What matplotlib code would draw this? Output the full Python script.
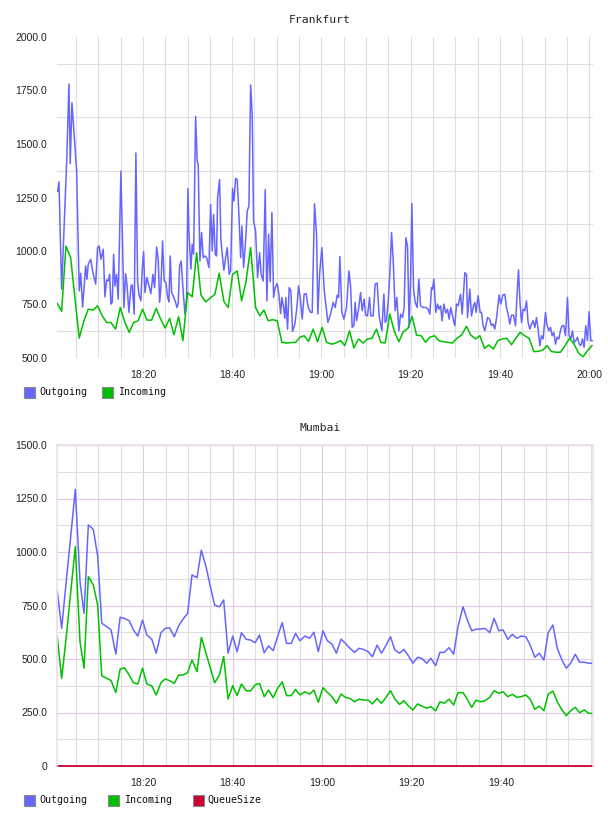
import matplotlib
matplotlib.use("Agg")
import matplotlib.pyplot as plt
from matplotlib.patches import Rectangle
from matplotlib.ticker import FixedLocator, FuncFormatter

# minutes after 18:00 and values
fra_out_t = [0.89, 1.19, 1.79, 2.91, 3.43, 3.72, 4.10, 5.15, 5.73, 6.05, 6.49, 7.17, 7.46, 7.75, 8.29, 8.73,
             9.41, 9.85, 10.21, 10.59, 11.11, 11.49, 11.87, 12.23, 12.54, 12.83, 13.13, 13.44, 13.73, 14.11,
             14.47, 15.07, 15.75, 16.13, 16.42, 16.87, 17.31, 17.61, 18.05, 18.43, 18.81, 19.11, 19.55, 19.85,
             20.16, 20.45, 20.90, 21.35, 21.79, 22.24, 22.62, 23.07, 23.43, 23.74, 24.03, 24.41, 24.77, 25.15,
             25.53, 25.83, 26.12, 26.43, 26.88, 27.33, 27.62, 27.91, 28.22, 28.58, 28.96, 29.41, 29.79, 30.08,
             30.31, 30.75, 31.05, 31.36, 31.81, 32.17, 32.39, 32.77, 33.15, 33.51, 33.89, 34.27, 34.79, 35.17,
             35.53, 35.84, 36.20, 36.51, 36.73, 37.18, 37.47, 37.77, 38.15, 38.53, 38.89, 39.33, 39.65, 40.09,
             40.39, 40.77, 41.13, 41.51, 41.89, 42.18, 42.56, 43.01, 43.37, 43.75, 44.13, 44.49, 44.80, 45.25,
             45.69, 46.14, 46.50, 46.95, 47.40, 47.78, 48.16, 48.52, 48.90, 49.28, 49.64, 50.09, 50.47, 50.85,
             51.14, 51.52, 51.81, 52.03, 52.41, 52.77, 53.15, 53.53, 54.05, 54.50, 54.88, 55.33, 55.69, 56.13,
             56.58, 57.03, 57.57, 57.93, 58.46, 58.91, 59.20, 59.58, 60.10, 60.60, 61.44, 62.05, 62.63, 63.08,
             63.53, 63.84, 64.13, 64.58, 65.03, 65.63, 66.15, 66.53, 66.89, 67.27, 67.56, 67.87, 68.32, 68.77,
             69.13, 69.57, 69.89, 70.33, 70.78, 71.07, 71.59, 72.04, 72.49, 72.93, 73.54, 73.99, 74.28, 74.59,
             74.95, 75.33, 75.71, 76.07, 76.52, 76.90, 77.35, 77.73, 78.17, 78.53, 78.91, 79.29, 79.65, 79.97,
             80.26, 80.64, 81.00, 81.45, 81.83, 82.21, 82.79, 83.39, 83.91, 84.29, 84.67, 84.89, 85.19, 85.63,
             86.01, 86.37, 86.69, 87.05, 87.43, 87.87, 88.25, 88.61, 88.99, 89.29, 89.60, 89.89, 90.27, 90.63,
             91.17, 91.53, 92.13, 92.51, 92.73, 93.25, 93.63, 94.08, 94.37, 94.66, 95.11, 95.56, 95.87, 96.23,
             96.61, 97.22, 97.66, 98.11, 98.47, 98.85, 99.30, 99.81, 100.19, 100.64, 101.09, 101.47, 101.83,
             102.21, 102.59, 103.04, 103.49, 103.85, 104.16, 104.45, 104.83, 105.19, 105.57, 105.95, 106.31,
             106.69, 107.07, 107.43, 107.81, 108.19, 108.55, 108.93, 109.31, 109.67, 110.21, 110.50, 110.95,
             111.33, 111.69, 112.07, 112.45, 112.81, 113.19, 113.63, 113.93, 114.31, 114.69, 115.13, 115.49,
             115.87, 116.25, 116.61, 116.99, 117.37, 117.73, 118.11, 118.49, 118.85, 119.23, 119.61, 119.97,
             120.35, 120.73]
fra_out_v = [1279, 1323, 821, 1413, 1780, 1408, 1693, 1373, 814, 896, 738, 930, 868, 938, 961, 907,
             845, 1017, 1023, 961, 1008, 786, 865, 860, 891, 752, 760, 985, 837, 891,
             775, 1373, 736, 894, 845, 713, 833, 842, 705, 1458, 860, 798, 767, 915,
             997, 806, 876, 837, 801, 891, 829, 1019, 961, 760, 829, 1047, 860, 853,
             786, 762, 977, 806, 786, 760, 736, 752, 930, 953, 829, 705, 783, 1292,
             1093, 915, 1031, 985, 1629, 1419, 1404, 953, 1086, 969, 977, 969, 923, 1217,
             1000, 1171, 985, 977, 1249, 1334, 1054, 985, 910, 969, 1016, 891, 907, 1292,
             1233, 1339, 1334, 1171, 969, 1116, 923, 1047, 1186, 1210, 1776, 1637, 1140, 1093,
             876, 992, 891, 860, 1287, 767, 1078, 857, 1179, 783, 829, 848, 798, 708,
             783, 736, 685, 783, 635, 829, 814, 624, 659, 736, 837, 767, 682, 798,
             801, 736, 713, 713, 1221, 1078, 705, 891, 1016, 822, 666, 705, 760, 736,
             794, 783, 974, 713, 682, 736, 907, 837, 643, 651, 760, 674, 728, 806,
             721, 775, 700, 697, 783, 697, 697, 845, 850, 697, 627, 798, 666, 674,
             760, 891, 1086, 961, 721, 783, 627, 705, 689, 736, 1062, 1023, 643, 868,
             1222, 822, 760, 736, 868, 744, 736, 736, 728, 705, 829, 822, 868, 713,
             752, 728, 744, 674, 752, 710, 728, 682, 736, 705, 674, 651, 752, 744,
             798, 705, 899, 891, 689, 822, 697, 744, 760, 713, 791, 713, 713, 651,
             627, 689, 682, 651, 659, 635, 697, 794, 752, 794, 798, 736, 705,
             659, 700, 700, 651, 806, 912, 775, 666, 728, 721, 767, 666,
             635, 659, 674, 643, 689, 635, 558, 604, 589, 713, 659, 627,
             643, 604, 620, 565, 597, 589, 635, 651, 651, 604, 783, 604,
             589, 627, 573, 581, 597, 565, 558, 589, 550, 651, 581, 716,
             581, 581]

fra_in_t = [0.81, 1.79, 2.75, 3.81, 5.73, 6.79, 7.75, 8.87, 9.85, 10.89, 11.87, 12.83, 13.89, 14.92, 15.97,
            16.93, 17.92, 18.95, 19.93, 20.90, 21.95, 22.98, 23.97, 25.00, 25.98, 26.95, 28.00, 28.96, 30.02,
            31.05, 32.03, 33.00, 34.05, 35.08, 36.13, 37.09, 38.15, 39.11, 40.09, 41.13, 42.11, 43.07, 44.13,
            45.25, 46.21, 47.11, 48.07, 49.05, 50.09, 51.14, 52.19, 53.15, 54.21, 55.17, 56.13, 57.12, 58.15,
            59.13, 60.17, 61.15, 62.27, 63.23, 64.29, 65.25, 66.30, 67.27, 68.32, 69.35, 70.33, 71.30, 72.35,
            73.31, 74.28, 75.33, 76.29, 77.35, 78.31, 79.36, 80.33, 81.31, 82.34, 83.33, 84.29, 85.34, 86.31,
            87.36, 88.32, 89.37, 90.34, 91.39, 92.51, 93.47, 94.53, 95.49, 96.54, 97.51, 98.56, 99.52, 100.57,
            101.54, 102.59, 103.55, 104.52, 105.57, 106.53, 107.59, 108.55, 109.60, 110.57, 111.55, 112.58,
            113.57, 114.60, 115.58, 116.61, 117.60, 118.63, 119.61, 120.62]
fra_in_v = [755, 718, 1023, 969, 593, 674, 728, 724, 744, 697, 666, 666, 635, 736, 666,
            620, 666, 674, 728, 677, 677, 732, 682, 640, 685, 609, 693, 581, 806,
            786, 992, 795, 762, 780, 798, 896, 764, 736, 891, 907, 767, 853, 1016,
            736, 697, 724, 674, 679, 674, 573, 570, 572, 573, 597, 604, 578, 635,
            576, 643, 573, 565, 570, 581, 558, 627, 547, 589, 570, 589, 592, 635,
            573, 570, 705, 627, 576, 622, 638, 694, 607, 604, 573, 597, 604, 581,
            576, 573, 570, 592, 607, 648, 607, 589, 604, 545, 561, 542, 581, 589,
            592, 562, 592, 620, 604, 592, 530, 531, 537, 558, 530, 527,
            527, 558, 592, 565, 523, 506, 534, 558]

mum_t = [0.81, 1.79, 2.75, 3.76, 4.84, 5.89, 6.79, 7.75, 8.87, 9.85, 10.75, 11.87, 12.83, 13.89, 14.85,
         15.81, 16.87, 17.83, 18.81, 19.85, 20.83, 21.95, 22.91, 23.97, 24.93, 25.89, 26.95, 27.91, 28.89,
         29.93, 30.91, 32.03, 33.00, 34.05, 35.01, 35.97, 37.03, 37.99, 38.97, 40.01, 40.99, 41.95, 43.01,
         43.97, 45.02, 45.99, 47.04, 48.00, 49.05, 50.02, 51.07, 52.03, 53.09, 54.05, 55.01, 56.13, 57.19,
         58.15, 59.13, 60.17, 61.15, 62.18, 63.17, 64.20, 65.18, 66.21, 67.20, 68.23, 69.21, 70.25, 71.23,
         72.26, 73.25, 74.28, 75.26, 76.23, 77.28, 78.24, 79.29, 80.26, 81.31, 82.27, 83.33, 84.29, 85.34,
         86.31, 87.27, 88.32, 89.37, 90.34, 91.46, 92.42, 93.41, 94.37, 95.42, 96.39, 97.44, 98.40, 99.46,
         100.42, 101.47, 102.50, 103.49, 104.45, 105.50, 106.47, 107.52, 108.48, 109.53, 110.50, 111.55,
         112.51, 113.57, 114.53, 115.49, 116.55, 117.51, 118.56, 119.53, 120.40]
mum_out = [818, 643, 850, 1060, 1293, 861, 713, 1126, 1106, 978, 667, 651, 636, 523, 695,
           690, 679, 636, 607, 682, 612, 592, 527, 623, 643, 646, 604, 654, 686,
           713, 893, 880, 1009, 931, 838, 752, 744, 776, 527, 607, 534, 623, 592,
           589, 576, 612, 529, 561, 539, 604, 670, 573, 573, 620, 585, 607, 597,
           625, 534, 632, 585, 570, 527, 593, 573, 550, 531, 550, 545, 534, 511,
           565, 527, 565, 604, 542, 527, 545, 514, 480, 508, 503, 480, 503, 469,
           531, 531, 553, 523, 651, 744, 682, 632, 639, 640, 643, 623, 690, 632,
           636, 592, 615, 597, 607, 604, 565, 508, 527, 495, 623, 659,
           550, 495, 457, 480, 522, 485, 485, 480, 480]
mum_in = [604, 410, 590, 800, 1025, 581, 457, 885, 846, 750, 421, 410, 399, 343, 453,
          459, 425, 389, 383, 457, 383, 374, 332, 389, 407, 399, 386, 425, 425,
          436, 495, 441, 601, 527, 457, 389, 425, 511, 313, 375, 329, 383, 352,
          350, 379, 386, 324, 355, 319, 363, 393, 329, 329, 358, 332, 347, 336,
          355, 298, 366, 344, 324, 293, 336, 321, 316, 300, 312, 308, 308, 290,
          316, 293, 321, 352, 313, 288, 305, 280, 262, 290, 280, 270, 277, 258,
          300, 293, 312, 285, 343, 343, 312, 274, 308, 300, 305, 321, 352, 340,
          347, 324, 335, 321, 324, 332, 312, 265, 280, 258, 336, 350,
          300, 262, 235, 258, 274, 249, 262, 246, 246]
mum_queue = [0] * len(mum_t)

BLUE = "#6666FF"
GREEN = "#00C000"
RED = "#CC0033"
GRID = "#DEDEDE"
PURPLE = "#E2C8E2"

W, H = 608, 816
fig = plt.figure(figsize=(W / 100, H / 100), dpi=100)


def fx(px):
    return px / W


def fy(py):
    return 1 - py / H


def hhmm(m, _pos=None):
    m = int(round(m))
    return f"{18 + m // 60}:{m % 60:02d}"


def setup(ax, y0, y1, ystep, xmax, xlabels, purple):
    ax.set_xlim(0.75, xmax)
    ax.set_ylim(y0, y1)
    ax.xaxis.set_major_locator(FixedLocator(xlabels))
    ax.xaxis.set_major_formatter(FuncFormatter(hhmm))
    ax.xaxis.set_minor_locator(FixedLocator([m for m in range(5, 121, 5) if m not in xlabels]))
    majors = list(range(y0, y1 + 1, ystep))
    ax.yaxis.set_major_locator(FixedLocator(majors))
    ax.yaxis.set_major_formatter(FuncFormatter(lambda v, p: "0" if v == 0 else f"{v:.1f}"))
    ax.yaxis.set_minor_locator(FixedLocator([v + ystep / 2 for v in majors[:-1]]))
    ax.tick_params(which="both", length=0)
    ax.tick_params(axis="y", pad=7)
    ax.tick_params(axis="x", pad=9)
    for lab in ax.get_xticklabels() + ax.get_yticklabels():
        lab.set_fontfamily("Liberation Sans")
        lab.set_fontsize(7.5)
        lab.set_color("#222222")
    ax.grid(which="minor", color=GRID, linewidth=0.8)
    if purple:
        ax.grid(which="major", color=PURPLE, linewidth=0.8)
        for s in ("left", "top", "right"):
            ax.spines[s].set_color("#EEDDEE")
            ax.spines[s].set_linewidth(1.2)
        ax.spines["bottom"].set_visible(False)
    else:
        ax.grid(which="major", axis="x", color=GRID, linewidth=0.8)
        for s in ax.spines.values():
            s.set_visible(False)
    ax.set_axisbelow(True)


def legend(y, items):
    for x_box, x_txt, name, color in items:
        fig.patches.append(Rectangle((fx(x_box), fy(y + 6)), fx(11), 11 / H, transform=fig.transFigure,
                                     facecolor=color, edgecolor="#888888", linewidth=0.8))
        fig.text(fx(x_txt), fy(y), name, family="DejaVu Sans Mono", fontsize=7.2, va="center", ha="left",
                 color="#111111")


# Frankfurt
ax1 = fig.add_axes([fx(57), fy(358), fx(593 - 57), (358 - 37) / H])
ax1.plot(fra_out_t, fra_out_v, color=BLUE, linewidth=1.1)
ax1.plot(fra_in_t, fra_in_v, color=GREEN, linewidth=1.1)
setup(ax1, 500, 2000, 250, 120.85, [20, 40, 60, 80, 100, 120], purple=False)
for lab in ax1.get_xticklabels():
    lab.set_clip_on(False)
fig.text(fx(320), fy(20), "Frankfurt", family="DejaVu Sans Mono", fontsize=8.2, ha="center", va="center",
         color="#222222")
legend(392, [(24, 39, "Outgoing", BLUE), (102, 118, "Incoming", GREEN)])

# Mumbai
ax2 = fig.add_axes([fx(57), fy(766), fx(593 - 57), (766 - 445) / H])
ax2.plot(mum_t, mum_out, color=BLUE, linewidth=1.1)
ax2.plot(mum_t, mum_in, color=GREEN, linewidth=1.1)
ax2.plot(mum_t, mum_queue, color=RED, linewidth=1.3, clip_on=False)
setup(ax2, 0, 1500, 250, 120.5, [20, 40, 60, 80, 100], purple=True)
fig.text(fx(320), fy(428), "Mumbai", family="DejaVu Sans Mono", fontsize=8.2, ha="center", va="center",
         color="#222222")
legend(800, [(24, 39, "Outgoing", BLUE), (108, 124, "Incoming", GREEN), (193, 207, "QueueSize", RED)])

fig.savefig("out.png", dpi=100)
